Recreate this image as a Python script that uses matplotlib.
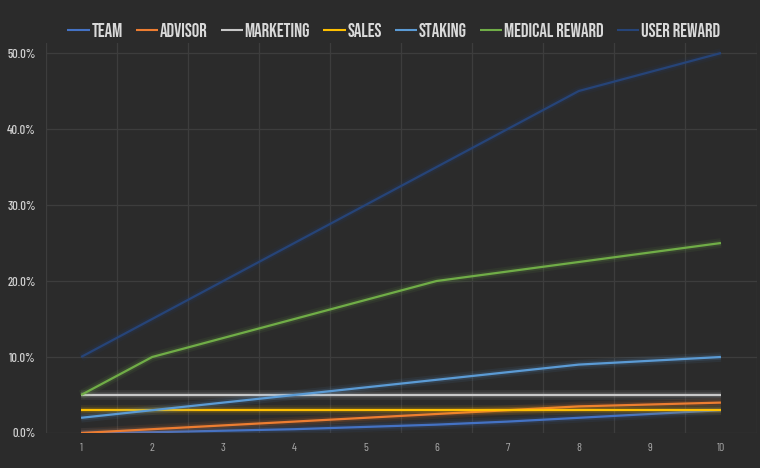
import matplotlib
matplotlib.use("Agg")
import matplotlib.pyplot as plt
import matplotlib.patheffects as pe
from matplotlib.ticker import FuncFormatter, FixedLocator

plt.rcParams['font.family'] = ['Bebas Neue', 'Oswald', 'Barlow Condensed', 'DejaVu Sans']

periods = [1, 2, 3, 4, 5, 6, 7, 8, 9, 10]
team = [0, 0.1, 0.3, 0.5, 0.8, 1.1, 1.5, 2.0, 2.5, 3.0]
advisor = [0, 0.5, 1.0, 1.5, 2.0, 2.5, 3.0, 3.5, 3.75, 4.0]
marketing = [5, 5, 5, 5, 5, 5, 5, 5, 5, 5]
sales = [3, 3, 3, 3, 3, 3, 3, 3, 3, 3]
staking = [2, 3, 4, 5, 6, 7, 8, 9, 9.5, 10]
medical_reward = [5, 10, 12.5, 15, 17.5, 20, 21.25, 22.5, 23.75, 25]
user_reward = [10, 15, 20, 25, 30, 35, 40, 45, 47.5, 50]

series = [
    ("TEAM", team, "#4472c4"),
    ("ADVISOR", advisor, "#ed7d31"),
    ("MARKETING", marketing, "#c8c8c8"),
    ("SALES", sales, "#ffc000"),
    ("STAKING", staking, "#5b9bd5"),
    ("MEDICAL REWARD", medical_reward, "#70ad47"),
    ("USER REWARD", user_reward, "#264478"),
]

bg = "#2b2b2b"
fig = plt.figure(figsize=(7.6, 4.68), dpi=100, facecolor=bg)
ax = fig.add_axes([0.0599, 0.0748, 0.9355, 0.833], facecolor=bg)

for name, vals, color in series:
    ax.plot(periods, vals, color=color, lw=1.6, label=name, zorder=3,
            solid_capstyle='butt',
            path_effects=[pe.Stroke(linewidth=7, foreground=color, alpha=0.08),
                          pe.Stroke(linewidth=4, foreground=color, alpha=0.14),
                          pe.Normal()])

ax.set_xlim(0.5, 10.5)
ax.set_ylim(0, 51.3)
ax.yaxis.set_major_locator(FixedLocator([0, 10, 20, 30, 40, 50]))
ax.yaxis.set_major_formatter(FuncFormatter(lambda v, p: f"{v:.1f}%"))
ax.xaxis.set_major_locator(FixedLocator(periods))
ax.xaxis.set_minor_locator(FixedLocator([p + 0.5 for p in [0] + periods]))

ax.grid(axis='y', which='major', color='#3d3d3d', lw=0.9)
ax.grid(axis='x', which='minor', color='#3d3d3d', lw=0.9)
ax.grid(axis='x', which='major', visible=False)
ax.set_axisbelow(True)

for s in ax.spines.values():
    s.set_visible(False)
ax.tick_params(axis='both', which='both', length=0)
ax.tick_params(axis='y', colors='#d0d0d0', pad=7)
ax.tick_params(axis='x', colors='#a8a8a8', pad=7)
for t in ax.get_yticklabels():
    t.set_family(['Barlow Condensed', 'Bebas Neue', 'DejaVu Sans'])
    t.set_fontsize(9)
    t.set_fontweight('medium')
for t in ax.get_xticklabels():
    t.set_family(['Barlow Condensed', 'Bebas Neue', 'DejaVu Sans'])
    t.set_fontsize(8.5)

leg = ax.legend(loc='center', bbox_to_anchor=(0.518, (468 - 30) / 468), bbox_transform=fig.transFigure,
                ncol=7, frameon=False, fontsize=13.5, handlelength=1.2, handletextpad=0.08,
                columnspacing=0.7, borderaxespad=0, borderpad=0)
for t in leg.get_texts():
    t.set_color('#d9d9d9')
for h in leg.get_lines():
    h.set_linewidth(1.5)
    h.set_path_effects([])

fig.savefig("out.png", dpi=100, facecolor=bg)
